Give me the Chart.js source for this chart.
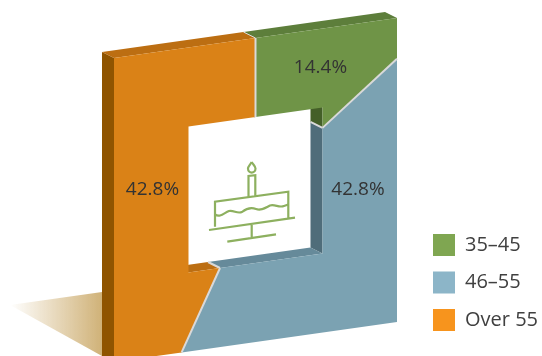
<!DOCTYPE html>
<html>
<head>
<meta charset="utf-8">
<style>html,body{margin:0;padding:0;background:#fff}canvas{display:block}</style>
<script src="https://cdn.jsdelivr.net/npm/chart.js@4"></script>
</head>
<body>
<canvas id="chart" width="542" height="356"></canvas>
<script>
// Age groups and their shares, in percent
const categories = ['35–45', '46–55', 'Over 55'];
const shares = [14.4, 42.8, 42.8];

// Slice colours: legend swatch, front face, up-facing wall, side-facing wall
const swatchColors = ['#7FA651', '#8CB5C8', '#F7941D'];
const faceColors = ['#6F9447', '#7BA2B2', '#DA8217'];
const lidColors = ['#5D7E3B', '#668A9A', '#BC6E12'];
const sideColors = ['#445F28', '#4F6D7A', '#8F5400'];

const FONT = '"Open Sans", "Noto Sans", sans-serif';
const SKEW = -0.1413;              // vertical shear of the frame's front plane
const DEPTH = { x: -12, y: -6 };   // extrusion direction
const OUTER_ASPECT = 304 / 283;    // frame height over width
const INNER_ASPECT = 146 / 134;    // hole height over width

// Walks a rectangle's outline between two doughnut angles, returning unsheared offsets
function outline(a0, a1, hw, hh) {
  const hit = (a) => {
    const c = Math.cos(a), s = Math.sin(a);
    const t = Math.min(c ? hw / Math.abs(c) : Infinity, s ? hh / Math.abs(s) : Infinity);
    return { x: c * t, y: s * t };
  };
  const corners = [[hw, -hh], [hw, hh], [-hw, hh], [-hw, -hh]].map(([x, y]) => {
    let a = Math.atan2(y, x);
    while (a < a0) a += Math.PI * 2;
    return { a, x, y };
  }).filter((c) => c.a < a1).sort((p, q) => p.a - q.a);
  return [hit(a0), ...corners, hit(a1)];
}

// Front-plane projection around the slice centre
const project = (el, p) => ({ x: el.x + p.x, y: el.y + p.y + SKEW * p.x });
const recede = (p) => ({ x: p.x + DEPTH.x, y: p.y + DEPTH.y });

function fillPoly(ctx, pts, color) {
  ctx.beginPath();
  pts.forEach((p, i) => (i ? ctx.lineTo(p.x, p.y) : ctx.moveTo(p.x, p.y)));
  ctx.closePath();
  ctx.fillStyle = color;
  ctx.fill();
}

function strokeLine(ctx, a, b, color, width) {
  ctx.beginPath();
  ctx.moveTo(a.x, a.y);
  ctx.lineTo(b.x, b.y);
  ctx.strokeStyle = color;
  ctx.lineWidth = width;
  ctx.stroke();
}

// Soft ground shadow running off behind the frame
function drawGroundShadow(ctx) {
  const g = ctx.createLinearGradient(10, 0, 102, 0);
  g.addColorStop(0, 'rgba(208,178,120,0)');
  g.addColorStop(1, 'rgba(208,178,120,1)');
  fillPoly(ctx, [{ x: 10, y: 305 }, { x: 102, y: 292 }, { x: 102, y: 356 }], g);
}

// Birthday-cake icon sitting in the hole of the frame
function drawCake(ctx) {
  ctx.save();
  ctx.strokeStyle = '#8DB05F';
  ctx.lineWidth = 2.2;
  ctx.lineJoin = 'miter';
  ctx.beginPath();
  // cake body
  ctx.moveTo(215, 226.7); ctx.lineTo(215, 201.7); ctx.lineTo(288.3, 191.7); ctx.lineTo(288.3, 218);
  // plate
  ctx.moveTo(209, 230); ctx.lineTo(295, 217.7);
  // stem and base
  ctx.moveTo(251.7, 224); ctx.lineTo(251.7, 238);
  ctx.moveTo(227.3, 241.7); ctx.lineTo(276, 234.3);
  // candle
  ctx.moveTo(248.5, 197); ctx.lineTo(248.5, 176); ctx.lineTo(255.3, 175.2); ctx.lineTo(255.3, 196);
  ctx.stroke();
  // icing
  ctx.beginPath();
  ctx.moveTo(215, 214.5);
  ctx.bezierCurveTo(220, 218, 224, 213, 229, 211);
  ctx.bezierCurveTo(234, 210, 237, 214, 242, 212);
  ctx.bezierCurveTo(247, 208, 251, 207, 256, 209);
  ctx.bezierCurveTo(261, 211, 265, 208, 270, 205.5);
  ctx.bezierCurveTo(275, 204, 279, 208, 284, 206);
  ctx.lineTo(288.3, 204.5);
  ctx.stroke();
  // flame
  ctx.beginPath();
  ctx.moveTo(251.7, 162);
  ctx.bezierCurveTo(253.5, 165, 255.5, 166.5, 255.5, 168.5);
  ctx.bezierCurveTo(255.5, 171, 253.5, 172.6, 251.7, 172.6);
  ctx.bezierCurveTo(249.9, 172.6, 248, 171, 248, 168.5);
  ctx.bezierCurveTo(248, 166.5, 250, 165, 251.7, 162);
  ctx.stroke();
  ctx.restore();
}

// Draws each doughnut slice as a section of an extruded rectangular frame
const framePlugin = {
  id: 'extrudedFrame',
  afterLayout(chart) {
    const legend = chart.legend;
    const pad = legend.options.labels.padding;
    const w = legend.width, h = legend.height;
    legend.left = 433 - pad;
    legend.right = legend.left + w;
    legend.top = 234 - pad;
    legend.bottom = legend.top + h;
  },
  beforeDatasetDraw(chart, args) {
    const ctx = chart.ctx;
    const slices = args.meta.data.map((el, i) => {
      const hw = el.outerRadius, hh = hw * OUTER_ASPECT;
      const iw = el.innerRadius, ih = iw * INNER_ASPECT;
      return {
        el, i, hw, hh, iw, ih,
        outer: outline(el.startAngle, el.endAngle, hw, hh),
        inner: outline(el.startAngle, el.endAngle, iw, ih)
      };
    });

    ctx.save();
    drawGroundShadow(ctx);

    // Walls first: outer top and left, then the hole's bottom and right
    slices.forEach((s) => {
      const wall = (pts, test) => {
        for (let k = 0; k < pts.length - 1; k++) {
          const kind = test(pts[k], pts[k + 1]);
          if (!kind) continue;
          const a = project(s.el, pts[k]), b = project(s.el, pts[k + 1]);
          fillPoly(ctx, [a, b, recede(b), recede(a)], kind === 'lid' ? lidColors[s.i] : sideColors[s.i]);
        }
      };
      const near = (u, v) => Math.abs(u - v) < 1e-6;
      wall(s.outer, (p, q) => near(p.y, -s.hh) && near(q.y, -s.hh) ? 'lid'
        : near(p.x, -s.hw) && near(q.x, -s.hw) ? 'side' : null);
      wall(s.inner, (p, q) => near(p.y, s.ih) && near(q.y, s.ih) ? 'lid'
        : near(p.x, s.iw) && near(q.x, s.iw) ? 'side' : null);
    });

    // Divider traces across the walls
    slices.forEach((s) => {
      const o = project(s.el, s.outer[0]), n = project(s.el, s.inner[0]);
      strokeLine(ctx, o, recede(o), '#D9D9D9', 1);
      strokeLine(ctx, n, recede(n), '#D9D9D9', 2);
    });

    // Front faces
    slices.forEach((s) => {
      const poly = [...s.outer, ...s.inner.slice().reverse()].map((p) => project(s.el, p));
      fillPoly(ctx, poly, faceColors[s.i]);
    });

    // Dividers on the front plane
    slices.forEach((s) => {
      strokeLine(ctx, project(s.el, s.outer[0]), project(s.el, s.inner[0]), '#D9D9D9', 2);
    });

    drawCake(ctx);
    ctx.restore();
    return false;
  },
  afterDatasetsDraw(chart) {
    const ctx = chart.ctx;
    const anchors = [{ x: 320.5, y: 68 }, { x: 358, y: 190 }, { x: 152.5, y: 190 }];
    ctx.save();
    ctx.font = '19px ' + FONT;
    ctx.fillStyle = '#333333';
    ctx.textAlign = 'center';
    ctx.textBaseline = 'middle';
    shares.forEach((v, i) => ctx.fillText(v.toFixed(1) + '%', anchors[i].x, anchors[i].y));
    ctx.restore();
  }
};

new Chart(document.getElementById('chart'), {
  type: 'doughnut',
  data: {
    labels: categories,
    datasets: [{ data: shares, backgroundColor: swatchColors, borderWidth: 0 }]
  },
  options: {
    responsive: false,
    animation: false,
    cutout: '47.35%',
    layout: { padding: { left: 114, right: 145, top: 38, bottom: 14 } },
    plugins: {
      tooltip: { enabled: false },
      legend: {
        position: 'chartArea',
        align: 'start',
        labels: {
          boxWidth: 22,
          boxHeight: 22,
          padding: 15.5,
          color: '#404040',
          font: { family: FONT, size: 20 }
        }
      }
    }
  },
  plugins: [framePlugin]
});
</script>
</body>
</html>
